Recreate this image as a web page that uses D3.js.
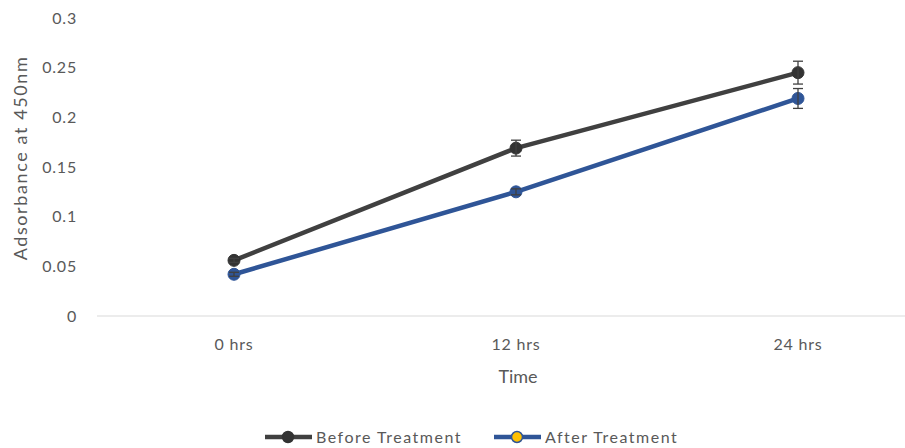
<!DOCTYPE html>
<html><head><meta charset="utf-8">
<script src="https://cdn.jsdelivr.net/npm/d3@7"></script>
<style>body{margin:0;background:#fff;} svg{display:block;}</style>
</head><body>
<svg id="c" width="905" height="448"></svg>
<script>
const categories = ["0 hrs", "12 hrs", "24 hrs"];
const beforeValues = [0.056, 0.169, 0.245];
const beforeErrors = [0.002, 0.008, 0.0115];
const afterValues = [0.042, 0.125, 0.219];
const afterErrors = [0.002, 0.003, 0.010];
const yTicks = [0, 0.05, 0.1, 0.15, 0.2, 0.25, 0.3];
const seriesNames = ["Before Treatment", "After Treatment"];

const font = "Lato, 'Open Sans', sans-serif";
const svg = d3.select("#c");
const x = d3.scaleBand().domain(categories).range([93, 939]);
const y = d3.scaleLinear().domain([0, 0.3]).range([316, 18]);
const cx = d => x(d) + x.bandwidth() / 2;

// y tick labels
svg.append("g").selectAll("text").data(yTicks).join("text")
  .attr("x", 77).attr("y", d => y(d)).attr("dy", "0.35em")
  .attr("text-anchor", "end").attr("font-family", font).attr("font-size", 16)
  .attr("letter-spacing", 0.8)
  .attr("fill", "#595959").text(d => d === 0 ? "0" : String(d));

// x axis line
svg.append("line").attr("x1", 97).attr("x2", 905).attr("y1", y(0)).attr("y2", y(0))
  .attr("stroke", "#d9d9d9").attr("stroke-width", 1);

// x tick labels
svg.append("g").selectAll("text").data(categories).join("text")
  .attr("x", d => cx(d)).attr("y", 344).attr("dy", "0.35em")
  .attr("text-anchor", "middle").attr("font-family", font).attr("font-size", 16)
  .attr("letter-spacing", 0.8)
  .attr("fill", "#595959").text(d => d);

// axis titles
svg.append("text").attr("x", 518).attr("y", 377).attr("dy", "0.35em")
  .attr("text-anchor", "middle").attr("font-family", font).attr("font-size", 18)
  .attr("fill", "#595959").text("Time");
svg.append("text").attr("transform", "translate(21,158) rotate(-90)").attr("dy", "0.35em")
  .attr("text-anchor", "middle").attr("font-family", font).attr("font-size", 18)
  .attr("letter-spacing", 1.6)
  .attr("fill", "#595959").text("Adsorbance at 450nm");

const series = [
  {name: seriesNames[0], values: beforeValues, errors: beforeErrors, color: "#404040", marker: "#333333", legendFill: "#333333"},
  {name: seriesNames[1], values: afterValues, errors: afterErrors, color: "#2f5597", marker: "#2f5597", legendFill: "#ffc000"}
];

const line = d3.line().x(d => cx(d.c)).y(d => y(d.v));
series.forEach(s => {
  const pts = categories.map((c, i) => ({c, v: s.values[i], e: s.errors[i]}));
  svg.append("path").datum(pts).attr("d", line).attr("fill", "none")
    .attr("stroke", s.color).attr("stroke-width", 4.5).attr("stroke-linejoin", "round");
  const g = svg.append("g");
  g.selectAll("circle").data(pts).join("circle")
    .attr("cx", d => cx(d.c)).attr("cy", d => y(d.v)).attr("r", 6)
    .attr("fill", s.marker).attr("stroke", s.marker).attr("stroke-width", 1);
  const eb = svg.append("g").attr("stroke", "#404040").attr("stroke-width", 1.3);
  pts.forEach(d => {
    const xx = cx(d.c), t = y(d.v + d.e), b = y(d.v - d.e);
    eb.append("line").attr("x1", xx).attr("x2", xx).attr("y1", t).attr("y2", b);
    eb.append("line").attr("x1", xx - 5).attr("x2", xx + 5).attr("y1", t).attr("y2", t);
    eb.append("line").attr("x1", xx - 5).attr("x2", xx + 5).attr("y1", b).attr("y2", b);
  });
});

// legend
const legX = [265, 494];
series.forEach((s, i) => {
  const lx = legX[i], ly = 437;
  svg.append("line").attr("x1", lx).attr("x2", lx + 47).attr("y1", ly).attr("y2", ly)
    .attr("stroke", s.color).attr("stroke-width", 4.5);
  svg.append("circle").attr("cx", lx + 23).attr("cy", ly).attr("r", 5.5)
    .attr("fill", s.legendFill).attr("stroke", s.marker).attr("stroke-width", 1.5);
  svg.append("text").attr("x", lx + 51).attr("y", ly).attr("dy", "0.35em")
    .attr("font-family", font).attr("font-size", 16).attr("letter-spacing", 1.5)
    .attr("fill", "#595959").text(s.name);
});
</script>
</body></html>
